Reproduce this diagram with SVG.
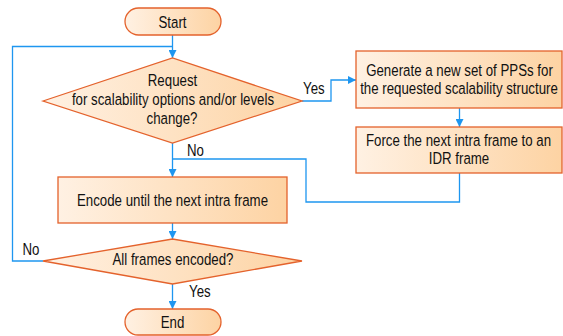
<svg xmlns="http://www.w3.org/2000/svg" width="563" height="336" viewBox="0 0 563 336">
  <defs>
    <linearGradient id="fillGrad" x1="0" y1="0" x2="1" y2="0">
      <stop offset="0" stop-color="#fff1e3"/>
      <stop offset="1" stop-color="#fdd3a3"/>
    </linearGradient>
    <marker id="arrow" viewBox="0 0 8 8" refX="8" refY="4" markerWidth="8" markerHeight="8" markerUnits="userSpaceOnUse" orient="auto">
      <path d="M0,0 L8,4 L0,8 Z" fill="#1e96f0"/>
    </marker>
    <style>
      .shape { fill: url(#fillGrad); stroke: #e4622c; stroke-width: 1.3; }
      .conn { fill: none; stroke: #1e96f0; stroke-width: 1.3; }
      .arr { marker-end: url(#arrow); }
      text { font-family: "Liberation Sans", Arial, sans-serif; font-size: 16.5px; fill: #111; }
      .c { text-anchor: middle; }
    </style>
  </defs>

  <rect width="563" height="336" fill="#ffffff"/>

  <!-- connectors -->
  <g id="connectors">
    <path class="conn arr" d="M172.5,35 V58"/>
    <path class="conn" d="M43,261 H12.5 V46.5 H172.5"/>
    <path class="conn arr" d="M302,101 H331 V80 H356"/>
    <path class="conn arr" d="M459.5,108 V127"/>
    <path class="conn arr" d="M172.5,143 V177"/>
    <path class="conn" d="M459.5,173 V202 H306 V159 H172.5"/>
    <path class="conn arr" d="M172.5,223 V239"/>
    <path class="conn arr" d="M172.5,284 V309"/>
  </g>

  <!-- nodes; labels use a narrowed face via horizontal scaling -->
  <g id="start">
    <rect class="shape" x="125" y="8" width="96" height="27" rx="13.5"/>
    <text class="c" transform="translate(172.5 27.5) scale(0.805 1)">Start</text>
  </g>

  <g id="request">
    <polygon class="shape" points="43,101 172.5,58 302,101 172.5,143"/>
    <text class="c" transform="translate(172.5 85.5) scale(0.805 1)">Request</text>
    <text class="c" transform="translate(173 104.5) scale(0.805 1)">for scalability options and/or levels</text>
    <text class="c" transform="translate(172 123.5) scale(0.805 1)">change?</text>
  </g>

  <g id="generate">
    <rect class="shape" x="356" y="51" width="206" height="57"/>
    <text class="c" transform="translate(459.5 75.5) scale(0.805 1)">Generate a new set of PPSs for</text>
    <text class="c" transform="translate(459 94) scale(0.805 1)">the requested scalability structure</text>
  </g>

  <g id="force">
    <rect class="shape" x="356" y="127" width="206" height="46"/>
    <text class="c" transform="translate(458.5 145.5) scale(0.805 1)">Force the next intra frame to an</text>
    <text class="c" transform="translate(459 163.5) scale(0.805 1)">IDR frame</text>
  </g>

  <g id="encode">
    <rect class="shape" x="58" y="177" width="229" height="46"/>
    <text class="c" transform="translate(172.5 205.5) scale(0.805 1)">Encode until the next intra frame</text>
  </g>

  <g id="all-frames">
    <polygon class="shape" points="43,261 172.5,239 302,261 172.5,284"/>
    <text class="c" transform="translate(173 264.5) scale(0.805 1)">All frames encoded?</text>
  </g>

  <g id="end">
    <rect class="shape" x="125" y="309" width="96" height="26" rx="13"/>
    <text class="c" transform="translate(172.5 327.5) scale(0.805 1)">End</text>
  </g>

  <!-- branch labels -->
  <g id="labels">
    <text transform="translate(303 93.5) scale(0.805 1)">Yes</text>
    <text transform="translate(187 155.5) scale(0.805 1)">No</text>
    <text transform="translate(22.5 254.5) scale(0.805 1)">No</text>
    <text transform="translate(189 296.5) scale(0.805 1)">Yes</text>
  </g>
</svg>
